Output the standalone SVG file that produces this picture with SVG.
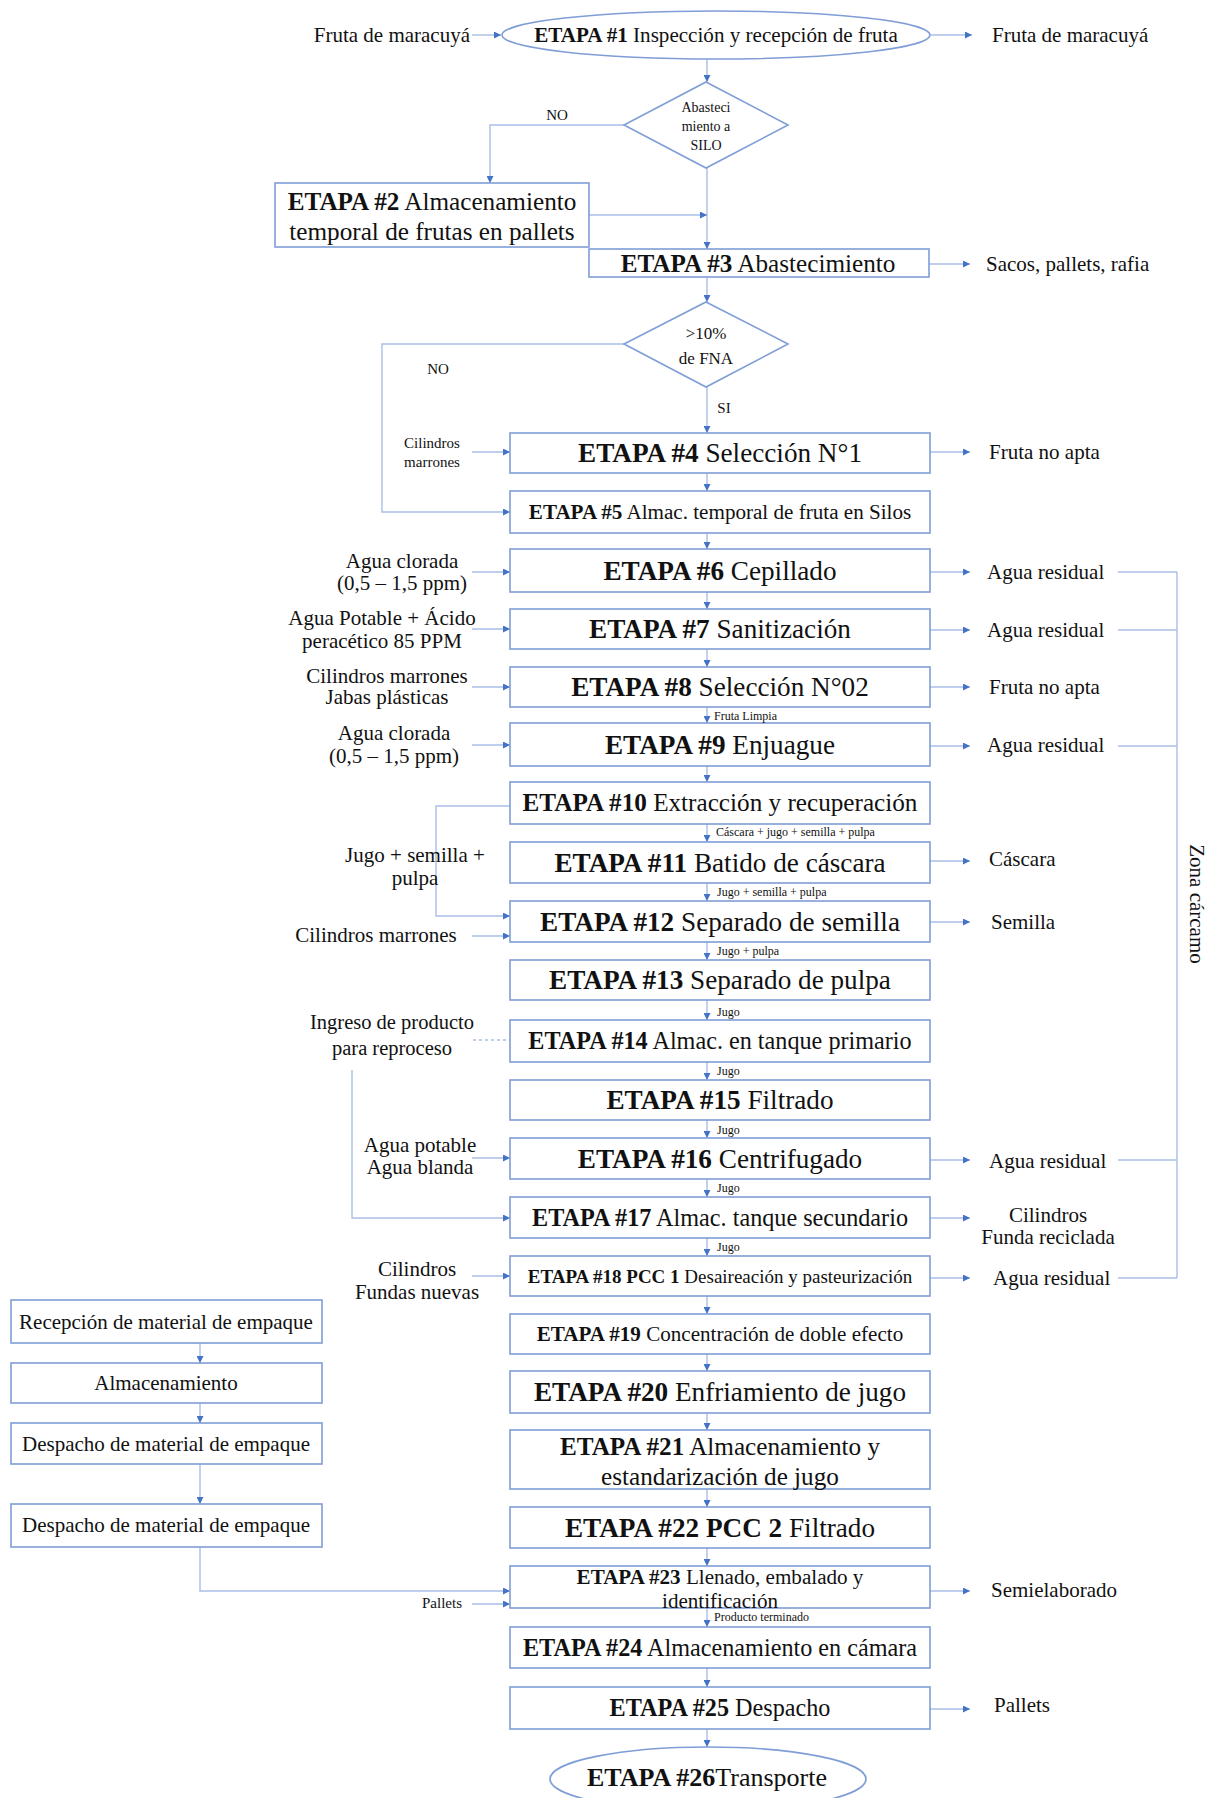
<svg xmlns="http://www.w3.org/2000/svg" width="1210" height="1798" viewBox="0 0 1210 1798">
<style>
text{font-family:"Liberation Serif","Times New Roman",serif;fill:#111}
.b{font-weight:bold}
.box{fill:#fff;stroke:#7F9DD6;stroke-width:1.6}
.ln{fill:none;stroke:#A9BEE6;stroke-width:1.4}
.dot{fill:none;stroke:#A9BEE6;stroke-width:1.4;stroke-dasharray:3 3}
.t26{font-size:27.2px;text-anchor:middle}
.t24{font-size:25.2px;text-anchor:middle}
.t23{font-size:24.2px;text-anchor:middle}
.t20{font-size:21.1px;text-anchor:middle}
.t18{font-size:19px;text-anchor:middle}
.s{font-size:21px}
.m{text-anchor:middle}
.sm{font-size:12px}
</style>
<defs>
<marker id="a" viewBox="0 0 8 8" refX="8" refY="4" markerWidth="7" markerHeight="7" markerUnits="userSpaceOnUse" orient="auto">
<path d="M0,0 L8,4 L0,8 z" fill="#4472C4"/>
</marker>
</defs>

<g id="connectors">
<path class="ln" d="M707,59 V82" marker-end="url(#a)"/>
<path class="ln" d="M707,168 V249" marker-end="url(#a)"/>
<path class="ln" d="M589,215 H707" marker-end="url(#a)"/>
<path class="ln" d="M624,125 H490 V183" marker-end="url(#a)"/>
<path class="ln" d="M707,277 V302" marker-end="url(#a)"/>
<path class="ln" d="M707,387 V433" marker-end="url(#a)"/>
<path class="ln" d="M624,344 H382 V512 H510" marker-end="url(#a)"/>
<path class="ln" d="M707,473 V491" marker-end="url(#a)"/>
<path class="ln" d="M707,533 V549" marker-end="url(#a)"/>
<path class="ln" d="M707,592 V609" marker-end="url(#a)"/>
<path class="ln" d="M707,649 V667" marker-end="url(#a)"/>
<path class="ln" d="M707,707 V723" marker-end="url(#a)"/>
<path class="ln" d="M707,766 V782" marker-end="url(#a)"/>
<path class="ln" d="M707,824 V842" marker-end="url(#a)"/>
<path class="ln" d="M707,883 V901" marker-end="url(#a)"/>
<path class="ln" d="M707,942 V960" marker-end="url(#a)"/>
<path class="ln" d="M707,1000 V1020" marker-end="url(#a)"/>
<path class="ln" d="M707,1062 V1080" marker-end="url(#a)"/>
<path class="ln" d="M707,1120 V1138" marker-end="url(#a)"/>
<path class="ln" d="M707,1179 V1197" marker-end="url(#a)"/>
<path class="ln" d="M707,1238 V1256" marker-end="url(#a)"/>
<path class="ln" d="M707,1296 V1314" marker-end="url(#a)"/>
<path class="ln" d="M707,1354 V1371" marker-end="url(#a)"/>
<path class="ln" d="M707,1413 V1430" marker-end="url(#a)"/>
<path class="ln" d="M707,1489 V1507" marker-end="url(#a)"/>
<path class="ln" d="M707,1548 V1566" marker-end="url(#a)"/>
<path class="ln" d="M707,1608 V1627" marker-end="url(#a)"/>
<path class="ln" d="M707,1668 V1687" marker-end="url(#a)"/>
<path class="ln" d="M707,1729 V1747" marker-end="url(#a)"/>
<path class="ln" d="M510,806 H436 V916 H510" marker-end="url(#a)"/>
<path class="ln" d="M352,1070 V1218 H510" marker-end="url(#a)"/>
<path class="dot" d="M473,1040 H510"/>
<path class="ln" d="M200,1547 V1591 H510" marker-end="url(#a)"/>
<path class="ln" d="M200,1343 V1363" marker-end="url(#a)"/>
<path class="ln" d="M200,1403 V1423" marker-end="url(#a)"/>
<path class="ln" d="M200,1464 V1504" marker-end="url(#a)"/>
<path class="ln" d="M472,35 H501" marker-end="url(#a)"/>
<path class="ln" d="M472,452 H510" marker-end="url(#a)"/>
<path class="ln" d="M472,572 H510" marker-end="url(#a)"/>
<path class="ln" d="M472,629 H510" marker-end="url(#a)"/>
<path class="ln" d="M472,687 H510" marker-end="url(#a)"/>
<path class="ln" d="M472,745 H510" marker-end="url(#a)"/>
<path class="ln" d="M472,936 H510" marker-end="url(#a)"/>
<path class="ln" d="M472,1158 H510" marker-end="url(#a)"/>
<path class="ln" d="M472,1276 H510" marker-end="url(#a)"/>
<path class="ln" d="M472,1604 H510" marker-end="url(#a)"/>
<path class="ln" d="M931,35 H972" marker-end="url(#a)"/>
<path class="ln" d="M929,264 H970" marker-end="url(#a)"/>
<path class="ln" d="M930,452 H970" marker-end="url(#a)"/>
<path class="ln" d="M930,572 H970" marker-end="url(#a)"/>
<path class="ln" d="M930,630 H970" marker-end="url(#a)"/>
<path class="ln" d="M930,687 H970" marker-end="url(#a)"/>
<path class="ln" d="M930,746 H970" marker-end="url(#a)"/>
<path class="ln" d="M930,861 H970" marker-end="url(#a)"/>
<path class="ln" d="M930,922 H970" marker-end="url(#a)"/>
<path class="ln" d="M930,1160 H970" marker-end="url(#a)"/>
<path class="ln" d="M930,1218 H970" marker-end="url(#a)"/>
<path class="ln" d="M930,1278 H970" marker-end="url(#a)"/>
<path class="ln" d="M930,1591 H970" marker-end="url(#a)"/>
<path class="ln" d="M930,1709 H970" marker-end="url(#a)"/>
<path class="ln" d="M1118,572 H1177 M1118,630 H1177 M1118,746 H1177 M1118,1160 H1177 M1118,1278 H1177 M1177,572 V1278"/>
</g>

<g id="n1"><ellipse class="box" cx="716" cy="35" rx="214" ry="24"/><text class="t20" x="716" y="42"><tspan class="b">ETAPA #1</tspan> Inspección y recepción de fruta</text></g>
<g id="d1"><path class="box" d="M706,82 L788,125 L706,168 L624,125 Z"/><text class="m" style="font-size:14px" x="706" y="112">Abasteci</text><text class="m" style="font-size:14px" x="706" y="131">miento a</text><text class="m" style="font-size:14px" x="706" y="150">SILO</text></g>
<g id="n2"><rect class="box" x="275" y="183" width="314" height="64"/><text class="t24" x="432" y="210"><tspan class="b">ETAPA #2</tspan> Almacenamiento</text><text class="t24" x="432" y="240">temporal de frutas en pallets</text></g>
<g id="n3"><rect class="box" x="589" y="249" width="340" height="28"/><text class="t24" x="758" y="272"><tspan class="b">ETAPA #3</tspan> Abastecimiento</text></g>
<g id="d2"><path class="box" d="M706,302 L788,344 L706,387 L624,344 Z"/><text class="m" style="font-size:17px" x="706" y="339">&gt;10%</text><text class="m" style="font-size:17px" x="706" y="364">de FNA</text></g>
<g id="n4"><rect class="box" x="510" y="433" width="420" height="40"/><text class="t26" x="720" y="462"><tspan class="b">ETAPA #4</tspan> Selección N°1</text></g>
<g id="n5"><rect class="box" x="510" y="491" width="420" height="42"/><text class="t20" x="720" y="519"><tspan class="b">ETAPA #5</tspan> Almac. temporal de fruta en Silos</text></g>
<g id="n6"><rect class="box" x="510" y="549" width="420" height="43"/><text class="t26" x="720" y="580"><tspan class="b">ETAPA #6</tspan> Cepillado</text></g>
<g id="n7"><rect class="box" x="510" y="609" width="420" height="40"/><text class="t26" x="720" y="638"><tspan class="b">ETAPA #7</tspan> Sanitización</text></g>
<g id="n8"><rect class="box" x="510" y="667" width="420" height="40"/><text class="t26" x="720" y="696"><tspan class="b">ETAPA #8</tspan> Selección N°02</text></g>
<g id="n9"><rect class="box" x="510" y="723" width="420" height="43"/><text class="t26" x="720" y="754"><tspan class="b">ETAPA #9</tspan> Enjuague</text></g>
<g id="n10"><rect class="box" x="510" y="782" width="420" height="42"/><text class="t24" x="720" y="811"><tspan class="b">ETAPA #10</tspan> Extracción y recuperación</text></g>
<g id="n11"><rect class="box" x="510" y="842" width="420" height="41"/><text class="t26" x="720" y="872"><tspan class="b">ETAPA #11</tspan> Batido de cáscara</text></g>
<g id="n12"><rect class="box" x="510" y="901" width="420" height="41"/><text class="t26" x="720" y="931"><tspan class="b">ETAPA #12</tspan> Separado de semilla</text></g>
<g id="n13"><rect class="box" x="510" y="960" width="420" height="40"/><text class="t26" x="720" y="989"><tspan class="b">ETAPA #13</tspan> Separado de pulpa</text></g>
<g id="n14"><rect class="box" x="510" y="1020" width="420" height="42"/><text class="t23" x="720" y="1049"><tspan class="b">ETAPA #14</tspan> Almac. en tanque primario</text></g>
<g id="n15"><rect class="box" x="510" y="1080" width="420" height="40"/><text class="t26" x="720" y="1109"><tspan class="b">ETAPA #15</tspan> Filtrado</text></g>
<g id="n16"><rect class="box" x="510" y="1138" width="420" height="41"/><text class="t26" x="720" y="1168"><tspan class="b">ETAPA #16</tspan> Centrifugado</text></g>
<g id="n17"><rect class="box" x="510" y="1197" width="420" height="41"/><text class="t23" x="720" y="1226"><tspan class="b">ETAPA #17</tspan> Almac. tanque secundario</text></g>
<g id="n18"><rect class="box" x="510" y="1256" width="420" height="40"/><text class="t18" x="720" y="1283"><tspan class="b">ETAPA #18 PCC 1</tspan> Desaireación y pasteurización</text></g>
<g id="n19"><rect class="box" x="510" y="1314" width="420" height="40"/><text class="t20" x="720" y="1341"><tspan class="b">ETAPA #19</tspan> Concentración de doble efecto</text></g>
<g id="n20"><rect class="box" x="510" y="1371" width="420" height="42"/><text class="t26" x="720" y="1401"><tspan class="b">ETAPA #20</tspan> Enfriamiento de jugo</text></g>
<g id="n21"><rect class="box" x="510" y="1430" width="420" height="59"/><text class="t24" x="720" y="1455"><tspan class="b">ETAPA #21</tspan> Almacenamiento y</text><text class="t24" x="720" y="1485">estandarización de jugo</text></g>
<g id="n22"><rect class="box" x="510" y="1507" width="420" height="41"/><text class="t26" x="720" y="1537"><tspan class="b">ETAPA #22 PCC 2</tspan> Filtrado</text></g>
<g id="n23"><rect class="box" x="510" y="1566" width="420" height="42"/><text class="t20" x="720" y="1584"><tspan class="b">ETAPA #23</tspan> Llenado, embalado y</text><text class="t20" x="720" y="1608">identificación</text></g>
<g id="n24"><rect class="box" x="510" y="1627" width="420" height="41"/><text class="t23" x="720" y="1656"><tspan class="b">ETAPA #24</tspan> Almacenamiento en cámara</text></g>
<g id="n25"><rect class="box" x="510" y="1687" width="420" height="42"/><text class="t23" x="720" y="1716"><tspan class="b">ETAPA #25</tspan> Despacho</text></g>
<g id="n26"><ellipse class="box" cx="708" cy="1779" rx="158" ry="32"/><text class="m" style="font-size:26px" x="707" y="1786"><tspan class="b">ETAPA #26</tspan>Transporte</text></g>

<g id="pack">
<g id="pA"><rect class="box" x="11" y="1300" width="311" height="43"/><text class="s m" x="166" y="1329">Recepción de material de empaque</text></g>
<g id="pB"><rect class="box" x="11" y="1363" width="311" height="40"/><text class="s m" x="166" y="1390">Almacenamiento</text></g>
<g id="pC"><rect class="box" x="11" y="1423" width="311" height="41"/><text class="s m" x="166" y="1451">Despacho de material de empaque</text></g>
<g id="pD"><rect class="box" x="11" y="1504" width="311" height="43"/><text class="s m" x="166" y="1532">Despacho de material de empaque</text></g>
</g>

<g id="labels">
<text class="s" x="470" y="42" text-anchor="end">Fruta de maracuyá</text>
<text class="s" x="992" y="42">Fruta de maracuyá</text>
<text x="557" y="120" class="m" style="font-size:15px">NO</text>
<text class="s" x="986" y="271">Sacos, pallets, rafia</text>
<text x="438" y="374" class="m" style="font-size:15px">NO</text>
<text x="724" y="413" class="m" style="font-size:15px">SI</text>
<text x="432" y="448" class="m" style="font-size:15px">Cilindros</text>
<text x="432" y="467" class="m" style="font-size:15px">marrones</text>
<text class="s" x="989" y="459">Fruta no apta</text>
<text class="s m" x="402" y="568">Agua clorada</text>
<text class="s m" x="402" y="590">(0,5 – 1,5 ppm)</text>
<text class="s" x="987" y="579">Agua residual</text>
<text class="s m" x="382" y="625">Agua Potable + Ácido</text>
<text class="s m" x="382" y="648">peracético 85 PPM</text>
<text class="s" x="987" y="637">Agua residual</text>
<text class="s m" x="387" y="683">Cilindros marrones</text>
<text class="s m" x="387" y="704">Jabas plásticas</text>
<text class="s" x="989" y="694">Fruta no apta</text>
<text class="sm" x="714" y="720">Fruta Limpia</text>
<text class="s m" x="394" y="740">Agua clorada</text>
<text class="s m" x="394" y="763">(0,5 – 1,5 ppm)</text>
<text class="s" x="987" y="752">Agua residual</text>
<text class="sm" x="716" y="836">Cáscara + jugo + semilla + pulpa</text>
<text class="s m" x="415" y="862">Jugo + semilla +</text>
<text class="s m" x="415" y="885">pulpa</text>
<text class="s" x="989" y="866">Cáscara</text>
<text class="sm" x="717" y="896">Jugo + semilla + pulpa</text>
<text class="s m" x="376" y="942">Cilindros marrones</text>
<text class="s" x="991" y="929">Semilla</text>
<text class="sm" x="717" y="955">Jugo + pulpa</text>
<text class="sm" x="717" y="1016">Jugo</text>
<text class="s m" style="font-size:20.5px" x="392" y="1029">Ingreso de producto</text>
<text class="s m" style="font-size:20.5px" x="392" y="1055">para reproceso</text>
<text class="sm" x="717" y="1075">Jugo</text>
<text class="sm" x="717" y="1134">Jugo</text>
<text class="s m" x="420" y="1152">Agua potable</text>
<text class="s m" x="420" y="1174">Agua blanda</text>
<text class="s" x="989" y="1168">Agua residual</text>
<text class="sm" x="717" y="1192">Jugo</text>
<text class="s m" x="1048" y="1222">Cilindros</text>
<text class="s m" x="1048" y="1244">Funda reciclada</text>
<text class="sm" x="717" y="1251">Jugo</text>
<text class="s m" x="417" y="1276">Cilindros</text>
<text class="s m" x="417" y="1299">Fundas nuevas</text>
<text class="s" x="993" y="1285">Agua residual</text>
<text class="s" x="991" y="1597">Semielaborado</text>
<text x="442" y="1608" class="m" style="font-size:15px">Pallets</text>
<text class="sm" x="714" y="1621">Producto terminado</text>
<text class="s" x="994" y="1712">Pallets</text>
<text class="s m" transform="translate(1190,904) rotate(90)" x="0" y="0">Zona cárcamo</text>
</g>
</svg>
